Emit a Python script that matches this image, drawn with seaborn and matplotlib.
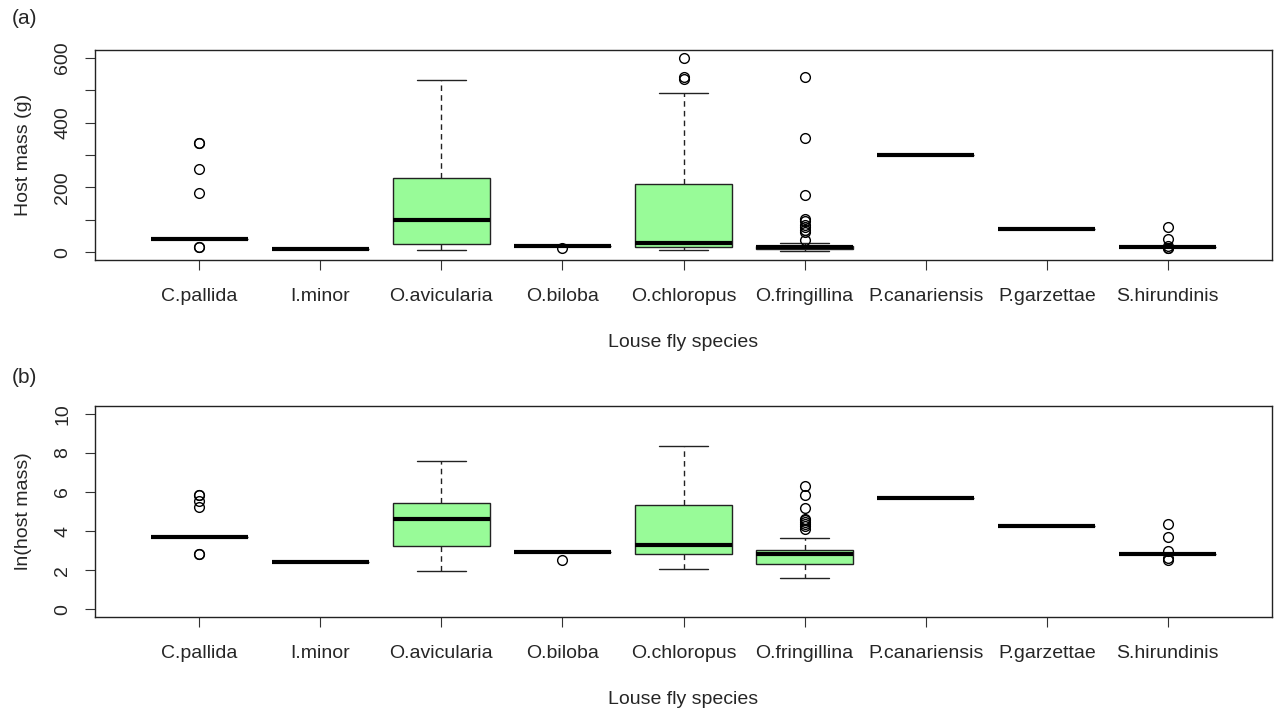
import numpy as np
import pandas as pd
import matplotlib
matplotlib.use("Agg")
import matplotlib.pyplot as plt
import seaborn as sns

# host mass (g) per louse fly species
species = ["C.pallida", "I.minor", "O.avicularia", "O.biloba", "O.chloropus",
           "O.fringillina", "P.canariensis", "P.garzettae", "S.hirundinis"]

c_pallida = [17, 17] + [39.5] * 11 + [183, 257, 338, 338]
i_minor = [11] * 5
o_avicularia = [7, 12, 18, 26, 50, 75, 99, 130, 180, 230, 350, 530, 1930]
o_biloba = [12.5] + [18.5] * 8
o_chloropus = [7.8, 10, 12, 14, 16, 17, 19, 21, 23, 25, 27,
               45, 80, 120, 160, 210, 490, 534, 540, 600, 4300]
o_fringillina = [4.9, 5.5, 6.0, 6.5, 7.0, 7.5, 8.0, 8.5, 9.0, 9.3, 9.6,
                 9.9, 10.5, 11, 11.5, 12, 12.5, 13.5, 14, 15, 15.5, 16,
                 16.6, 17, 17.5, 18, 18.5, 19, 19.3, 19.6, 19.8, 20, 20.1,
                 20.3, 27, 37.5, 62, 70, 78, 85, 95, 102, 176, 353, 540]
p_canariensis = [300] * 3
p_garzettae = [72] * 3
s_hirundinis = [12.7, 13.5] + [17] * 8 + [19.5, 41, 78]

masses = [c_pallida, i_minor, o_avicularia, o_biloba, o_chloropus,
          o_fringillina, p_canariensis, p_garzettae, s_hirundinis]

df = pd.DataFrame({
    "species": np.repeat(species, [len(m) for m in masses]),
    "mass": np.concatenate(masses),
})
df["lnmass"] = np.log(df["mass"])

sns.set_style("ticks")
plt.rcParams["font.family"] = ["Liberation Sans", "DejaVu Sans"]
plt.rcParams["axes.linewidth"] = 1.0

fs = 14

fig = plt.figure(figsize=(12.79, 7.10), dpi=100)
ax1 = fig.add_axes([95 / 1279, 1 - 260 / 710, 1177 / 1279, 210 / 710])
ax2 = fig.add_axes([95 / 1279, 1 - 617 / 710, 1177 / 1279, 211 / 710])

box_kws = dict(
    order=species, color="#98FB98", saturation=1, width=0.8, whis=1.5,
    linecolor="black", linewidth=1,
    boxprops={"edgecolor": "#222222", "linewidth": 1},
    whiskerprops={"linestyle": (0, (4, 3)), "linewidth": 1, "color": "#222222"},
    capprops={"linewidth": 1, "color": "#222222"},
    medianprops={"linewidth": 3, "color": "black", "solid_capstyle": "butt"},
    flierprops={"marker": "o", "markerfacecolor": "none", "markeredgecolor": "black",
                "markersize": 7, "markeredgewidth": 1},
)

sns.boxplot(data=df, x="species", y="mass", ax=ax1, **box_kws)
sns.boxplot(data=df, x="species", y="lnmass", ax=ax2, **box_kws)

for ax, ylab, lim, ticks, labs in [
    (ax1, "Host mass (g)", (-24, 624), np.arange(0, 601, 100),
     ["0", "", "200", "", "400", "", "600"]),
    (ax2, "ln(host mass)", (-0.4, 10.4), np.arange(0, 11, 2),
     ["0", "2", "4", "6", "8", "10"]),
]:
    ax.set_xlim(-0.86, 8.86)
    ax.set_ylim(*lim)
    ax.set_yticks(ticks)
    ax.set_yticklabels(labs, rotation=90, va="center", fontsize=fs)
    ax.tick_params(axis="both", direction="out", length=7, width=0.8, color="#333333")
    ax.tick_params(axis="x", pad=13, labelsize=fs)
    ax.tick_params(axis="y", pad=10)
    ax.set_xlabel("Louse fly species", fontsize=fs, labelpad=21)
    ax.set_ylabel(ylab, fontsize=fs, labelpad=16)
    for s in ax.spines.values():
        s.set_visible(True)
        s.set_color("#222222")
        s.set_linewidth(1)

fig.text(12 / 1279, 1 - 19 / 710, "(a)", fontsize=15, va="center", ha="left")
fig.text(12 / 1279, 1 - 378 / 710, "(b)", fontsize=15, va="center", ha="left")

fig.savefig("out.png", dpi=100)
